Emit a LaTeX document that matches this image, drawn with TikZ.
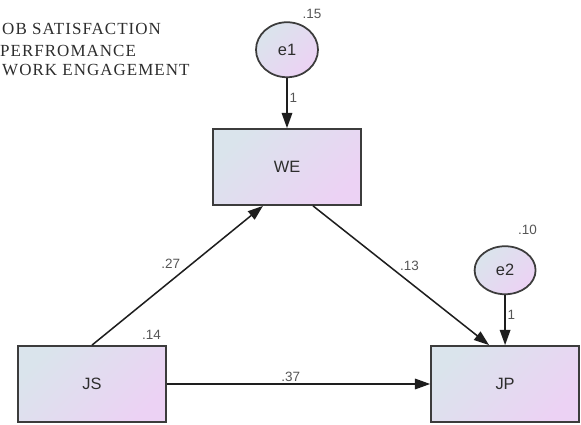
\documentclass[tikz,border=0pt]{standalone}
\usepackage{fontspec}
\setmainfont{Liberation Sans}
\newfontfamily\legendfont{Liberation Serif}[LetterSpace=6]
\usepackage{tikz}
\usetikzlibrary{shapes.geometric, arrows.meta, positioning}
\usepackage{xcolor}
\definecolor{cBlueGrey}{RGB}{218,228,236}
\definecolor{cLilac}{RGB}{236,210,244}
\definecolor{cBorder}{RGB}{60,60,60}
\definecolor{cLine}{RGB}{30,30,30}
\definecolor{cLabel}{RGB}{85,85,85}
\definecolor{cText}{RGB}{45,45,45}
\tikzset{
  basebox/.style={draw=cBorder, line width=1.5pt, top color=cBlueGrey,
                  bottom color=cLilac, shading angle=45, text=cText,
                  font=\fontsize{14}{16}\selectfont},
  obsnode/.style={basebox, rectangle, minimum width=4.44cm,
                  minimum height=2.28cm},
  errnode/.style={basebox, ellipse, inner sep=0pt},
  coef/.style={font=\fontsize{11.5}{13}\selectfont, text=cLabel, inner sep=1.5pt},
  varlbl/.style={coef, label distance=2pt},
  legendline/.style={anchor=base west, inner sep=0pt, text=cText,
                     font=\legendfont\fontsize{14.5}{17}\selectfont},
  arrow/.style={-{Triangle[length=13pt, width=9pt]}, line width=1.3pt, color=cLine}
}
\begin{document}
\begin{tikzpicture}[node distance=1.5cm and 7.9cm]
  \useasboundingbox (0,0) rectangle (17.43,12.72);

  % Legend
  \node[legendline] (lgJS) at (0.06,11.69) {OB SATISFACTION};
  \node[legendline] (lgJP) at (0.0,11.02) {PERFROMANCE};
  \node[legendline] (lgWE) at (0.06,10.44) {WORK ENGAGEMENT};

  % Observed variables
  \node[obsnode, label={[varlbl, anchor=south east, xshift=-0.18cm, yshift=0.08cm]north east:.14}] (JS) at (2.76,1.2) {JS};
  \node[obsnode, right=of JS] (JP) {JP};
  \node[obsnode] (WE) at (8.61,7.71) {WE};

  % Error terms
  \node[errnode, minimum width=1.86cm, minimum height=1.65cm, above=of WE,
        label={[varlbl, label distance=3pt]65:.15}] (e1) {e1};
  \node[errnode, minimum width=1.83cm, minimum height=1.44cm, above=of JP,
        label={[varlbl, label distance=9pt]72:.10}] (e2) {e2};

  % Paths
  \draw[arrow] (e1) -- (WE) node[pos=0.4, right, coef] {1};
  \draw[arrow] (e2) -- (JP) node[pos=0.4, right, coef] {1};
  \draw[arrow] (JS.north) -- ([xshift=-0.72cm]WE.south)
      node[pos=0.53, above left, coef] {.27};
  \draw[arrow] ([xshift=0.78cm]WE.south) -- ([xshift=-0.48cm]JP.north)
      node[pos=0.48, above right, coef] {.13};
  \draw[arrow] (JS) -- (JP) node[pos=0.47, above, coef] {.37};

\end{tikzpicture}
\end{document}
